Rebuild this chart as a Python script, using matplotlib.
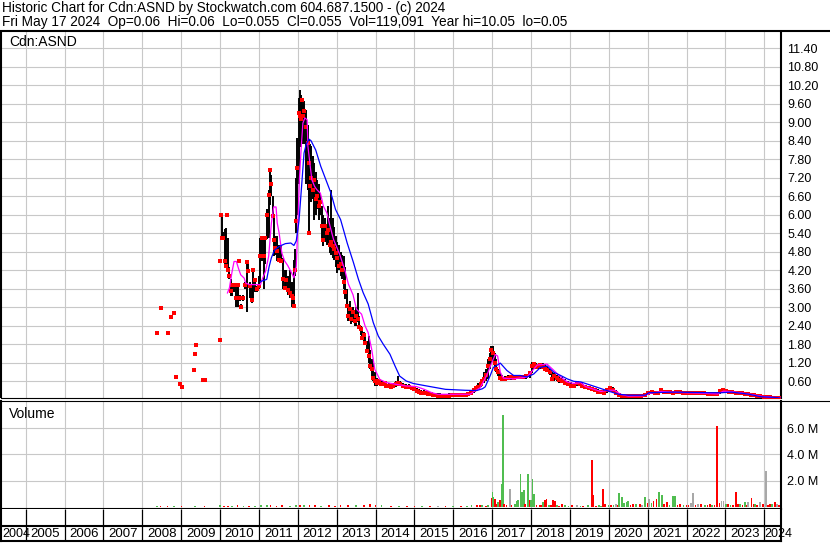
import matplotlib
matplotlib.use("Agg")
import matplotlib.pyplot as plt
from matplotlib.lines import Line2D

plt.rcParams['font.family'] = ['Liberation Sans', 'DejaVu Sans']

# ---- price bars (decimal year, high, low, close) ----
p_date = [2008.38, 2008.47, 2008.65, 2008.74, 2008.82, 2008.86, 2008.96, 2009.01, 2009.32, 2009.36, 2009.38, 2009.57, 2009.60, 2009.99,
          2010.00, 2010.02, 2010.05, 2010.08, 2010.12, 2010.15, 2010.18, 2010.21, 2010.24, 2010.27, 2010.31, 2010.36, 2010.41, 2010.45,
          2010.47, 2010.49, 2010.52, 2010.55, 2010.60, 2010.65, 2010.69, 2010.73, 2010.77, 2010.81, 2010.85, 2010.89, 2010.95,
          2011.00, 2011.04, 2011.08, 2011.12, 2011.15, 2011.20, 2011.25, 2011.29, 2011.32, 2011.35, 2011.38, 2011.42, 2011.47,
          2011.52, 2011.57, 2011.62, 2011.66, 2011.70, 2011.75, 2011.80, 2011.84, 2011.88, 2011.91, 2011.93, 2011.96, 2011.99,
          2012.02, 2012.05, 2012.08, 2012.11, 2012.14, 2012.17, 2012.21, 2012.25, 2012.28, 2012.30, 2012.31, 2012.34, 2012.38,
          2012.42, 2012.46, 2012.50, 2012.54, 2012.58, 2012.62, 2012.66, 2012.70, 2012.74, 2012.78, 2012.82, 2012.86, 2012.90,
          2012.94, 2012.98,
          2013.02, 2013.06, 2013.10, 2013.14, 2013.18, 2013.22, 2013.26, 2013.30, 2013.34, 2013.38, 2013.42, 2013.46, 2013.50,
          2013.54, 2013.58, 2013.62, 2013.66, 2013.70, 2013.74, 2013.78, 2013.82, 2013.86, 2013.90, 2013.94, 2013.98,
          2014.03, 2014.08, 2014.13, 2014.18, 2014.23, 2014.28, 2014.34, 2014.40, 2014.46, 2014.52, 2014.58, 2014.64, 2014.70,
          2014.78, 2014.86,
          2014.94, 2015.00, 2015.06, 2015.12, 2015.18, 2015.24, 2015.30, 2015.36, 2015.42, 2015.48, 2015.54, 2015.60, 2015.66,
          2015.72, 2015.78, 2015.84, 2015.90, 2015.96, 2016.02, 2016.08, 2016.14, 2016.20, 2016.26, 2016.32, 2016.38,
          2016.45, 2016.52, 2016.58, 2016.64, 2016.70, 2016.75, 2016.80, 2016.85, 2016.90, 2016.94, 2016.98, 2017.02, 2017.06,
          2017.10, 2017.15, 2017.20, 2017.26, 2017.32, 2017.40, 2017.48, 2017.56, 2017.64, 2017.72, 2017.80, 2017.88, 2017.96,
          2018.02, 2018.07, 2018.12, 2018.18, 2018.24, 2018.30, 2018.36, 2018.42, 2018.48, 2018.54, 2018.60, 2018.66, 2018.72,
          2018.80, 2018.88, 2018.95, 2019.02, 2019.10, 2019.18,
          2019.25, 2019.32, 2019.40, 2019.48, 2019.56, 2019.64, 2019.72, 2019.80, 2019.88, 2019.96, 2020.04, 2020.10, 2020.18,
          2020.26, 2020.34, 2020.44, 2020.54, 2020.64, 2020.74, 2020.84, 2020.94, 2021.02, 2021.10, 2021.18, 2021.26, 2021.34,
          2021.42, 2021.50, 2021.58, 2021.66, 2021.74, 2021.82, 2021.90, 2021.98, 2022.06, 2022.14, 2022.22, 2022.30, 2022.38,
          2022.46, 2022.54, 2022.62, 2022.70, 2022.78, 2022.86, 2022.94, 2023.02, 2023.10, 2023.18, 2023.26, 2023.34, 2023.42,
          2023.50, 2023.58, 2023.66, 2023.74, 2023.82, 2023.90, 2023.98, 2024.06, 2024.14, 2024.22, 2024.30, 2024.38]
p_high = [2.22, 2.98, 2.17, 2.69, 2.82, 0.73, 0.51, 0.42, 0.96, 1.49, 1.78, 0.63, 0.63, 1.94,
          4.48, 5.98, 5.98, 5.45, 5.55, 5.57, 5.98, 5.24, 4.30, 3.90, 3.75, 3.75, 3.73, 3.73,
          3.73, 4.48, 3.40, 3.10, 3.40, 3.80, 4.50, 4.40, 3.80, 3.73, 4.21, 3.95, 3.70,
          4.00, 5.24, 5.30, 5.30, 5.30, 6.20, 6.80, 7.44, 7.30, 6.60, 5.95, 5.30, 5.30,
          5.00, 4.97, 4.60, 4.21, 4.20, 4.00, 4.21, 3.80, 3.60, 4.54, 4.90, 7.20, 8.50,
          9.80, 10.05, 9.90, 9.80, 9.60, 9.70, 9.40, 8.90, 8.43, 7.00, 8.30, 8.22, 7.90,
          7.68, 7.40, 7.14, 7.00, 6.70, 6.27, 6.00, 5.90, 5.60, 6.27, 5.90, 6.81, 5.90,
          5.60, 5.30,
          5.10, 5.00, 4.80, 4.70, 4.66, 4.30, 3.60, 3.10, 3.20, 3.00, 3.00, 2.90, 3.00,
          3.47, 2.70, 2.40, 2.30, 2.20, 2.10, 1.90, 2.06, 1.60, 1.30, 1.20, 0.90,
          0.70, 0.65, 0.62, 0.60, 0.58, 0.55, 0.55, 0.50, 0.52, 0.60, 0.75, 0.60, 0.55,
          0.50, 0.50,
          0.45, 0.40, 0.38, 0.35, 0.30, 0.30, 0.28, 0.26, 0.25, 0.22, 0.21, 0.20, 0.20,
          0.19, 0.18, 0.19, 0.20, 0.20, 0.20, 0.20, 0.19, 0.18, 0.19, 0.20, 0.22,
          0.30, 0.35, 0.45, 0.55, 0.62, 0.67, 0.90, 1.00, 1.31, 1.50, 1.73, 1.73, 1.50,
          1.30, 1.00, 0.90, 0.80, 0.75, 0.78, 0.78, 0.80, 0.78, 0.80, 0.80, 0.82, 0.90,
          1.23, 1.23, 1.20, 1.15, 1.20, 1.17, 1.15, 1.10, 1.00, 0.90, 0.85, 0.80, 0.75,
          0.72, 0.65, 0.60, 0.57, 0.55, 0.60,
          0.58, 0.52, 0.48, 0.45, 0.42, 0.38, 0.35, 0.32, 0.30, 0.35, 0.42, 0.40, 0.30,
          0.22, 0.18, 0.16, 0.15, 0.15, 0.16, 0.15, 0.20, 0.28, 0.30, 0.27, 0.28, 0.36,
          0.30, 0.28, 0.28, 0.27, 0.28, 0.27, 0.26, 0.26, 0.26, 0.25, 0.26, 0.25, 0.25,
          0.25, 0.24, 0.24, 0.23, 0.22, 0.30, 0.34, 0.32, 0.30, 0.28, 0.27, 0.26, 0.25,
          0.24, 0.22, 0.20, 0.18, 0.17, 0.15, 0.13, 0.12, 0.10, 0.09, 0.08, 0.07]
p_low = [2.12, 2.98, 2.17, 2.69, 2.82, 0.73, 0.51, 0.42, 0.96, 1.49, 1.78, 0.63, 0.63, 1.94,
         4.48, 5.98, 5.20, 5.20, 4.35, 4.34, 5.98, 4.20, 3.90, 3.35, 3.37, 3.50, 3.00, 3.20,
         3.00, 4.48, 3.20, 2.99, 3.20, 3.60, 2.83, 4.10, 3.30, 3.13, 3.30, 3.50, 3.50,
         3.60, 3.78, 4.50, 3.60, 4.40, 5.20, 5.24, 6.30, 6.60, 5.90, 4.65, 4.70, 4.50,
         4.45, 4.43, 3.60, 3.60, 3.55, 3.40, 3.30, 3.00, 3.03, 2.97, 4.00, 5.40, 6.00,
         7.00, 8.40, 8.20, 8.30, 8.40, 8.30, 7.00, 6.80, 6.50, 5.41, 6.90, 6.40, 6.50,
         5.84, 6.00, 6.20, 5.84, 6.00, 5.20, 4.97, 5.10, 5.00, 5.00, 4.76, 4.70, 4.60,
         4.54, 4.30,
         4.10, 4.20, 4.00, 3.90, 3.60, 3.25, 3.00, 2.55, 2.60, 2.45, 2.50, 2.40, 2.40,
         2.50, 2.28, 2.10, 1.95, 1.80, 1.80, 1.50, 1.20, 1.00, 0.76, 0.60, 0.44,
         0.45, 0.48, 0.45, 0.45, 0.44, 0.40, 0.40, 0.38, 0.38, 0.40, 0.50, 0.45, 0.40,
         0.38, 0.36,
         0.33, 0.30, 0.25, 0.22, 0.18, 0.17, 0.15, 0.14, 0.12, 0.10, 0.10, 0.08, 0.08,
         0.08, 0.08, 0.09, 0.09, 0.09, 0.09, 0.10, 0.10, 0.10, 0.10, 0.10, 0.12,
         0.15, 0.20, 0.30, 0.35, 0.40, 0.45, 0.55, 0.60, 0.67, 1.00, 1.20, 1.25, 1.00,
         0.90, 0.75, 0.62, 0.62, 0.62, 0.63, 0.64, 0.65, 0.66, 0.67, 0.68, 0.68, 0.70,
         0.85, 1.00, 1.00, 1.00, 1.00, 1.00, 0.95, 0.90, 0.80, 0.60, 0.60, 0.60, 0.55,
         0.55, 0.50, 0.45, 0.41, 0.40, 0.45,
         0.45, 0.40, 0.35, 0.33, 0.30, 0.26, 0.22, 0.20, 0.20, 0.22, 0.28, 0.27, 0.18,
         0.12, 0.10, 0.08, 0.08, 0.07, 0.08, 0.08, 0.10, 0.15, 0.17, 0.15, 0.17, 0.20,
         0.20, 0.20, 0.20, 0.19, 0.20, 0.20, 0.19, 0.18, 0.18, 0.17, 0.18, 0.17, 0.17,
         0.17, 0.16, 0.15, 0.15, 0.14, 0.18, 0.22, 0.22, 0.20, 0.19, 0.18, 0.18, 0.17,
         0.16, 0.14, 0.12, 0.10, 0.10, 0.09, 0.07, 0.06, 0.05, 0.05, 0.05, 0.05]
p_close = [2.17, 2.98, 2.17, 2.69, 2.82, 0.73, 0.51, 0.42, 0.96, 1.49, 1.78, 0.63, 0.63, 1.94,
           4.48, 5.98, 5.24, 5.24, 4.48, 4.34, 5.98, 4.21, 4.02, 3.52, 3.73, 3.73, 3.29, 3.73,
           3.29, 4.48, 3.29, 2.99, 3.29, 3.73, 4.45, 4.18, 3.67, 3.24, 4.21, 3.89, 3.58,
           3.70, 4.65, 5.24, 4.65, 5.24, 6.00, 6.65, 7.44, 7.00, 5.95, 5.19, 4.92, 4.81,
           4.54, 4.48, 3.90, 3.62, 3.89, 3.57, 3.46, 3.35, 3.29, 3.02, 4.21, 5.80, 7.50,
           9.30, 9.20, 9.10, 9.73, 9.20, 9.35, 8.86, 8.32, 7.68, 5.41, 6.92, 7.20, 6.80,
           7.14, 6.50, 6.60, 6.27, 6.40, 5.62, 5.19, 5.62, 5.41, 5.51, 5.00, 5.10, 4.97,
           4.90, 4.76,
           4.60, 4.32, 4.40, 4.20, 3.80, 3.50, 3.04, 2.70, 2.93, 2.60, 2.85, 2.55, 2.70,
           2.60, 2.35, 2.28, 2.00, 2.10, 1.85, 1.57, 1.40, 1.09, 1.00, 0.70, 0.60,
           0.55, 0.60, 0.50, 0.49, 0.55, 0.45, 0.44, 0.40, 0.45, 0.50, 0.55, 0.50, 0.45,
           0.42, 0.40,
           0.38, 0.33, 0.28, 0.25, 0.22, 0.20, 0.20, 0.18, 0.17, 0.14, 0.13, 0.12, 0.11,
           0.11, 0.12, 0.12, 0.12, 0.13, 0.13, 0.13, 0.14, 0.14, 0.14, 0.15, 0.17,
           0.22, 0.30, 0.36, 0.41, 0.50, 0.60, 0.67, 0.80, 1.10, 1.30, 1.60, 1.50, 1.20,
           0.99, 0.88, 0.70, 0.67, 0.68, 0.70, 0.72, 0.70, 0.72, 0.74, 0.72, 0.75, 0.85,
           1.10, 1.15, 1.05, 1.10, 1.12, 1.05, 1.00, 0.95, 0.88, 0.65, 0.75, 0.70, 0.62,
           0.60, 0.55, 0.50, 0.45, 0.44, 0.55,
           0.50, 0.45, 0.40, 0.37, 0.35, 0.30, 0.25, 0.24, 0.22, 0.30, 0.37, 0.30, 0.20,
           0.15, 0.12, 0.10, 0.10, 0.10, 0.11, 0.10, 0.15, 0.22, 0.25, 0.20, 0.22, 0.30,
           0.24, 0.23, 0.25, 0.22, 0.25, 0.23, 0.22, 0.21, 0.22, 0.20, 0.22, 0.20, 0.21,
           0.20, 0.19, 0.18, 0.18, 0.17, 0.26, 0.30, 0.28, 0.25, 0.24, 0.22, 0.21, 0.20,
           0.19, 0.17, 0.14, 0.13, 0.12, 0.10, 0.09, 0.08, 0.07, 0.06, 0.06, 0.055]

# ---- moving averages ----
fast_date = [2010.19, 2010.24, 2010.31, 2010.36, 2010.42, 2010.47, 2010.53, 2010.62, 2010.66, 2010.75, 2010.92, 2011.04,
             2011.08, 2011.17, 2011.25, 2011.32, 2011.38, 2011.44, 2011.47, 2011.52, 2011.59, 2011.66, 2011.74, 2011.82,
             2011.90, 2011.96, 2012.00, 2012.04, 2012.09, 2012.13, 2012.18, 2012.24, 2012.26, 2012.32, 2012.36, 2012.43,
             2012.49, 2012.58, 2012.66, 2012.75, 2012.83, 2012.92, 2013.00, 2013.08, 2013.21, 2013.30, 2013.42, 2013.51,
             2013.64, 2013.73, 2013.81, 2013.90, 2013.98, 2014.11, 2014.28, 2014.54, 2014.79, 2015.05, 2015.25, 2015.45,
             2015.60, 2016.43, 2016.52, 2016.69, 2016.86, 2016.99, 2017.08, 2017.14, 2017.21, 2017.29, 2017.55, 2017.90,
             2018.07, 2018.16, 2018.41, 2018.59, 2018.76, 2018.93, 2019.10, 2019.28, 2019.40, 2019.60, 2019.80, 2020.00,
             2020.15, 2020.30, 2020.50, 2020.90, 2021.05, 2021.35, 2021.60, 2022.00, 2022.50, 2022.80, 2022.95, 2023.20,
             2023.60, 2023.90, 2024.20, 2024.40]
fast_val = [3.46, 3.62, 4.16, 4.48, 4.48, 4.27, 4.05, 3.94, 3.78, 3.73, 3.73, 3.73,
            3.89, 4.16, 4.65, 5.73, 6.25, 6.25, 5.73, 5.40, 4.75, 4.50, 4.35, 4.16,
            3.95, 4.32, 5.62, 7.14, 8.22, 8.97, 9.14, 9.08, 8.22, 7.57, 7.14, 6.92,
            6.81, 6.70, 6.27, 6.05, 5.62, 5.19, 4.95, 4.70, 4.20, 3.75, 3.40, 2.93,
            2.77, 2.39, 2.17, 1.63, 0.98, 0.65, 0.55, 0.49, 0.44, 0.42, 0.33, 0.22,
            0.17, 0.17, 0.25, 0.38, 0.78, 1.20, 1.46, 1.41, 0.88, 0.69, 0.67, 0.73,
            0.99, 1.12, 1.15, 0.94, 0.73, 0.57, 0.52, 0.55, 0.42, 0.34, 0.26, 0.30,
            0.30, 0.17, 0.11, 0.12, 0.20, 0.26, 0.24, 0.22, 0.20, 0.18, 0.27, 0.25,
            0.18, 0.11, 0.07, 0.06]

slow_date = [2011.04, 2011.20, 2011.26, 2011.32, 2011.40, 2011.52, 2011.68, 2011.82, 2011.90, 2011.96, 2012.03, 2012.09,
             2012.16, 2012.22, 2012.29, 2012.34, 2012.46, 2012.59, 2012.72, 2012.85, 2012.97, 2013.10, 2013.17, 2013.27,
             2013.43, 2013.56, 2013.68, 2013.81, 2013.94, 2014.07, 2014.20, 2014.37, 2014.50, 2014.62, 2014.79, 2014.97,
             2015.14, 2015.40, 2015.80, 2016.30, 2016.60, 2016.75, 2016.82, 2016.95, 2017.03, 2017.21, 2017.38, 2017.55,
             2017.72, 2017.90, 2018.07, 2018.24, 2018.41, 2018.59, 2018.76, 2018.93, 2019.10, 2019.28, 2019.57, 2020.00,
             2020.25, 2020.50, 2020.94, 2021.03, 2021.70, 2022.60, 2022.89, 2023.15, 2023.57, 2023.91, 2024.25, 2024.42]
slow_val = [3.83, 3.90, 4.30, 4.60, 4.85, 4.97, 5.06, 5.08, 5.00, 5.15, 5.80, 6.80,
            8.00, 8.30, 8.45, 8.40, 8.10, 7.57, 7.14, 6.71, 6.17, 5.84, 5.53, 5.08,
            4.45, 3.90, 3.47, 3.10, 2.50, 2.06, 1.79, 1.47, 1.09, 0.76, 0.60, 0.52,
            0.48, 0.42, 0.33, 0.30, 0.29, 0.35, 0.41, 0.78, 1.04, 1.18, 0.94, 0.78,
            0.78, 0.73, 0.83, 1.04, 1.09, 0.88, 0.78, 0.67, 0.59, 0.57, 0.45, 0.27,
            0.17, 0.14, 0.14, 0.22, 0.24, 0.22, 0.22, 0.24, 0.18, 0.09, 0.07, 0.05]

# ---- weekly volume (millions), colour: g=up, r=down, n=unchanged ----
v_date = [2008.38, 2008.47, 2008.65, 2008.82, 2009.01, 2009.36, 2009.60, 2010.00, 2010.10, 2010.20, 2010.30, 2010.45,
          2010.60, 2010.75, 2010.90, 2011.05, 2011.20, 2011.30, 2011.45, 2011.60, 2011.80, 2011.95, 2012.05, 2012.15,
          2012.30, 2012.45, 2012.60, 2012.80, 2012.95, 2013.10, 2013.30, 2013.50, 2013.70, 2013.85, 2014.00, 2014.15,
          2014.40, 2014.60, 2014.80, 2015.00, 2015.20, 2015.40, 2015.60, 2015.80, 2016.00, 2016.20, 2016.35,
          2016.47, 2016.60, 2016.68, 2016.73, 2016.84, 2016.90, 2016.98, 2017.01, 2017.03, 2017.07, 2017.11, 2017.15,
          2017.20, 2017.24, 2017.28, 2017.31, 2017.37, 2017.45, 2017.50, 2017.58, 2017.63, 2017.67, 2017.73, 2017.77,
          2017.82, 2017.84, 2017.93, 2017.97, 2018.00, 2018.04, 2018.08, 2018.14, 2018.23, 2018.27, 2018.31, 2018.36,
          2018.40, 2018.47, 2018.52, 2018.57, 2018.61, 2018.66, 2018.72, 2018.79, 2018.87, 2018.96, 2019.05, 2019.19,
          2019.27, 2019.34, 2019.47, 2019.56, 2019.60, 2019.67, 2019.74, 2019.79, 2019.86, 2019.90, 2019.99, 2020.06,
          2020.12, 2020.18, 2020.23, 2020.27, 2020.33, 2020.39, 2020.46, 2020.50, 2020.56, 2020.62, 2020.70, 2020.80,
          2020.86, 2020.93, 2021.00, 2021.04, 2021.10, 2021.15, 2021.23, 2021.30, 2021.36, 2021.42, 2021.49, 2021.56,
          2021.66, 2021.70, 2021.77, 2021.83, 2021.92, 2022.00, 2022.05, 2022.12, 2022.17, 2022.23, 2022.30, 2022.38,
          2022.47, 2022.54, 2022.60, 2022.66, 2022.72, 2022.79, 2022.85, 2022.90, 2022.95, 2023.01, 2023.07, 2023.13,
          2023.20, 2023.27, 2023.32, 2023.37, 2023.44, 2023.50, 2023.55, 2023.59, 2023.67, 2023.72, 2023.76, 2023.82,
          2023.89, 2023.96, 2024.04, 2024.10, 2024.14, 2024.20, 2024.27, 2024.32, 2024.38]
v_val = [0.04, 0.03, 0.05, 0.04, 0.03, 0.05, 0.04, 0.08, 0.06, 0.07, 0.05, 0.08,
         0.06, 0.07, 0.06, 0.08, 0.10, 0.09, 0.07, 0.08, 0.06, 0.10, 0.12, 0.09,
         0.10, 0.08, 0.07, 0.08, 0.07, 0.08, 0.09, 0.08, 0.10, 0.16, 0.12, 0.08,
         0.06, 0.05, 0.05, 0.06, 0.05, 0.04, 0.07, 0.04, 0.05, 0.04, 0.06,
         0.10, 0.08, 0.10, 0.08, 0.06, 0.08, 0.62, 1.13, 0.75, 0.56, 0.23, 0.36,
         0.49, 1.77, 7.03, 0.18, 0.10, 1.33, 0.10, 0.23, 0.41, 0.49, 2.49, 1.13,
         1.26, 0.23, 2.49, 0.49, 0.49, 2.15, 1.00, 0.10, 0.10, 0.10, 0.36, 0.54,
         0.56, 0.10, 0.08, 0.49, 0.44, 0.15, 0.06, 0.18, 0.10, 0.05, 0.08, 0.10,
         0.06, 0.03, 0.10, 3.56, 0.87, 0.03, 0.10, 0.05, 1.33, 0.23, 0.10, 0.08,
         0.10, 0.18, 0.10, 1.03, 0.72, 0.28, 0.36, 0.41, 0.15, 0.23, 0.20, 0.23,
         0.15, 0.74, 0.25, 0.60, 0.25, 0.41, 0.56, 1.08, 0.87, 0.20, 0.31, 0.15,
         0.82, 0.82, 0.15, 0.23, 0.12, 0.15, 0.15, 0.30, 1.05, 0.15, 0.23, 0.18,
         0.15, 0.12, 0.23, 0.10, 0.15, 6.18, 0.25, 0.41, 0.41, 0.20, 0.23, 0.10,
         0.15, 1.13, 0.18, 0.23, 0.12, 0.31, 0.15, 0.31, 0.67, 0.20, 0.23, 0.12,
         0.36, 0.23, 2.72, 0.15, 0.23, 0.18, 0.31, 0.20, 0.10]
v_dir = ['g', 'r', 'r', 'g', 'r', 'g', 'r', 'g', 'r', 'r', 'g', 'r',
         'g', 'r', 'g', 'g', 'g', 'r', 'r', 'r', 'g', 'g', 'r', 'g',
         'r', 'r', 'g', 'r', 'r', 'r', 'r', 'g', 'r', 'r', 'r', 'g',
         'r', 'g', 'r', 'r', 'g', 'r', 'n', 'r', 'g', 'r', 'g',
         'g', 'r', 'r', 'g', 'r', 'g', 'r', 'g', 'g', 'r', 'r', 'g',
         'r', 'g', 'g', 'r', 'r', 'n', 'r', 'g', 'g', 'g', 'g', 'g',
         'g', 'r', 'g', 'r', 'g', 'g', 'g', 'r', 'r', 'r', 'g', 'r',
         'r', 'g', 'r', 'r', 'r', 'g', 'r', 'r', 'g', 'g', 'r', 'n',
         'g', 'r', 'g', 'r', 'r', 'r', 'g', 'g', 'r', 'r', 'g', 'r',
         'g', 'n', 'r', 'g', 'g', 'g', 'g', 'g', 'r', 'r', 'g', 'r',
         'n', 'g', 'r', 'n', 'g', 'r', 'r', 'g', 'g', 'r', 'r', 'g',
         'g', 'g', 'r', 'r', 'g', 'r', 'r', 'n', 'n', 'r', 'n', 'r',
         'g', 'r', 'r', 'g', 'r', 'r', 'r', 'n', 'n', 'g', 'r', 'g',
         'r', 'r', 'r', 'g', 'r', 'g', 'r', 'n', 'r', 'r', 'g', 'r',
         'n', 'r', 'n', 'r', 'r', 'g', 'r', 'n', 'r']

years = list(range(2004, 2025))
price_ticks = [0.6, 1.2, 1.8, 2.4, 3.0, 3.6, 4.2, 4.8, 5.4, 6.0, 6.6, 7.2, 7.8, 8.4, 9.0, 9.6, 10.2, 10.8, 11.4]
vol_ticks = [2, 4, 6]

title1 = "Historic Chart for Cdn:ASND by Stockwatch.com 604.687.1500 - (c) 2024"
title2 = "Fri May 17 2024  Op=0.06  Hi=0.06  Lo=0.055  Cl=0.055  Vol=119,091  Year hi=10.05  lo=0.05"

# ---- layout in pixels ----
W, H = 830, 543


def box(x0, y0, x1, y1):
    return [x0 / W, 1 - y1 / H, (x1 - x0) / W, (y1 - y0) / H]


x_lo = 2005 - (25.7 - 1) / 38.87
x_hi = 2024 + (781 - 764.3) / 38.87
grid_c = '#c8c8c8'
col_map = {'g': '#50bd50', 'r': '#ff0000', 'n': '#a8a8a8'}

fig = plt.figure(figsize=(W / 100, H / 100), dpi=100)
ax_p = fig.add_axes(box(1, 32, 781, 397.5))
ax_v = fig.add_axes(box(1, 400.5, 781, 509))
ax_d = fig.add_axes(box(1, 509, 781, 541))

for ax in (ax_p, ax_v):
    ax.set_xlim(x_lo, x_hi)
    ax.set_xticks(years[1:])
    ax.tick_params(axis='x', length=0, labelbottom=False)
    ax.yaxis.tick_right()
    ax.tick_params(axis='y', length=0, pad=4.5, labelsize=9)
    ax.grid(color=grid_c, linewidth=0.8)
    ax.set_axisbelow(True)
    ax.spines['top'].set_visible(False)
    ax.spines['left'].set_linewidth(1.5)
    ax.spines['right'].set_linewidth(1.5)

# price panel
ax_p.set_ylim(0.065, 11.93)
ax_p.set_yticks(price_ticks)
ax_p.set_yticklabels([f"{t:.2f}" for t in price_ticks])
ax_p.spines['bottom'].set_linewidth(0.8)
ax_p.vlines(p_date, p_low, p_high, colors='black', linewidth=1.4, zorder=3)
ax_p.plot(p_date, p_close, 's', color='#ff0000', markersize=2.4, markeredgewidth=0, zorder=4)
ax_p.plot(fast_date, fast_val, color='#ff00ff', linewidth=0.9, zorder=5)
ax_p.plot(slow_date, slow_val, color='#0000ff', linewidth=0.9, zorder=6)
ax_p.text(8 / 780, 1 - 10 / 365.5, "Cdn:ASND", transform=ax_p.transAxes, fontsize=10, va='center', ha='left')

# volume panel
ax_v.set_ylim(-0.19, 8.15)
ax_v.set_yticks(vol_ticks)
ax_v.set_yticklabels([f"{t:.1f} M" for t in vol_ticks])
ax_v.spines['bottom'].set_linewidth(1.5)
ax_v.bar(v_date, v_val, width=0.045, color=[col_map[d] for d in v_dir], linewidth=0, zorder=3)
ax_v.text(8 / 780, 1 - 13 / 108.5, "Volume", transform=ax_v.transAxes, fontsize=10, va='center', ha='left')

# date strip
ax_d.set_xlim(x_lo, x_hi)
ax_d.set_ylim(0, 1)
ax_d.set_xticks([])
ax_d.set_yticks([])
ax_d.spines['top'].set_visible(False)
for s in ('left', 'right', 'bottom'):
    ax_d.spines[s].set_linewidth(1.5)
ax_d.vlines(years[1:], 0, 1, colors='black', linewidth=0.9)
ax_d.axhline(15 / 32, color='black', linewidth=1.5)
for y in years:
    if y == 2004:
        ax_d.text(x_lo + 0.04, 0.22, str(y), ha='left', va='center', fontsize=9)
    elif y == 2024:
        ax_d.text(y - 0.01, 0.22, str(y), ha='left', va='center', fontsize=9, clip_on=False)
    else:
        ax_d.text(y + 0.5, 0.22, str(y), ha='center', va='center', fontsize=9.5)

# header and frame lines across the full width
fig.add_artist(Line2D([0, 1], [1 - 31 / H] * 2, transform=fig.transFigure, color='black', linewidth=1.5))
fig.add_artist(Line2D([0, 1], [1 - 400.5 / H] * 2, transform=fig.transFigure, color='black', linewidth=0.8))
fig.text(2 / W, 1 - 8 / H, title1, fontsize=9.8, va='center', ha='left')
fig.text(2 / W, 1 - 22 / H, title2, fontsize=9.8, va='center', ha='left')

fig.savefig("out.png", dpi=100)
